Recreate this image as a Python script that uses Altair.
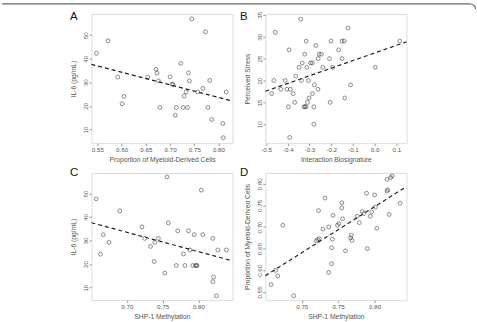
import altair as alt
import pandas as pd

# Panel A: IL-6 vs proportion of myeloid-derived cells
a_x = [0.548, 0.572, 0.592, 0.605, 0.601, 0.654, 0.671, 0.673, 0.676, 0.679,
       0.700, 0.704, 0.706, 0.711, 0.713, 0.722, 0.727, 0.729, 0.733, 0.736,
       0.738, 0.740, 0.745, 0.757, 0.768, 0.773, 0.778, 0.782, 0.786, 0.809,
       0.810, 0.816]
a_y = [42.3, 47.6, 32.2, 24.0, 20.9, 32.2, 35.5, 33.9, 30.6, 19.3,
       32.3, 29.2, 29.1, 16.0, 19.3, 38.0, 19.3, 24.2, 25.9, 19.3,
       34.0, 30.6, 56.9, 25.9, 27.4, 51.4, 19.3, 30.8, 14.2, 12.5,
       6.5, 25.9]

# Panel B: perceived stress vs interaction biosignature
b_x = [-0.474, -0.464, -0.457, -0.432, -0.412, -0.404, -0.394, -0.388, -0.397, -0.391,
       -0.375, -0.368, -0.363, -0.348, -0.340, -0.337, -0.333, -0.325, -0.321, -0.316,
       -0.322, -0.315, -0.312, -0.305, -0.309, -0.302, -0.295, -0.287, -0.286, -0.280,
       -0.280, -0.277, -0.271, -0.261, -0.260, -0.255, -0.245, -0.239, -0.208, -0.205,
       -0.201, -0.193, -0.166, -0.150, -0.150, -0.140, -0.138, -0.123, -0.111, 0.003,
       0.115]
b_y = [17, 20, 31, 18, 20, 18, 27, 18, 14, 7,
       17, 15, 21, 23, 34, 20, 24, 14, 14, 14,
       26, 29, 23, 20, 15, 16, 24, 24, 17, 14,
       10, 19, 28, 18, 25, 26, 26, 23, 25, 15,
       29, 23, 27, 25, 29, 29, 16, 32, 19, 23,
       29]

# Panel C: IL-6 vs SHP-1 methylation
c_x = [0.657, 0.667, 0.675, 0.663, 0.690, 0.721, 0.725, 0.733, 0.739, 0.738,
       0.744, 0.753, 0.756, 0.758, 0.769, 0.771, 0.779, 0.781, 0.786, 0.788,
       0.792, 0.796, 0.797, 0.798, 0.794, 0.804, 0.806, 0.820, 0.821, 0.820,
       0.825, 0.827, 0.839]
c_y = [47.7, 32.5, 29.2, 24.2, 42.6, 35.8, 30.9, 27.5, 29.2, 21.1,
       30.9, 16.2, 57.0, 37.5, 19.4, 34.1, 24.3, 19.4, 34.1, 26.0,
       19.4, 19.4, 19.4, 19.4, 32.5, 51.4, 32.5, 30.9, 14.5, 12.5,
       6.5, 26.0, 26.0]

# Panel D: proportion of myeloid-derived cells vs SHP-1 methylation
d_x = [0.658, 0.664, 0.667, 0.674, 0.689, 0.720, 0.722, 0.723, 0.724, 0.729,
       0.732, 0.737, 0.737, 0.741, 0.741, 0.742, 0.743, 0.749, 0.751, 0.755,
       0.755, 0.756, 0.760, 0.767, 0.768, 0.769, 0.776, 0.779, 0.783, 0.785,
       0.789, 0.790, 0.794, 0.796, 0.800, 0.801, 0.803, 0.817, 0.822, 0.824,
       0.817, 0.818, 0.835, 0.820]
d_y = [0.567, 0.600, 0.587, 0.704, 0.541, 0.668, 0.671, 0.738, 0.673, 0.695,
       0.767, 0.595, 0.700, 0.615, 0.652, 0.672, 0.727, 0.704, 0.708, 0.744,
       0.756, 0.719, 0.645, 0.675, 0.681, 0.669, 0.725, 0.710, 0.736, 0.731,
       0.778, 0.650, 0.725, 0.735, 0.774, 0.746, 0.697, 0.810, 0.814, 0.818,
       0.783, 0.786, 0.755, 0.729]

# Tick values per axis
a_xticks = [0.55, 0.60, 0.65, 0.70, 0.75, 0.80]
il6_ticks = [10, 20, 30, 40, 50]
b_xticks = [-0.5, -0.4, -0.3, -0.2, -0.1, 0.0, 0.1]
b_yticks = [10, 15, 20, 25, 30, 35]
shp_ticks = [0.70, 0.75, 0.80]
d_yticks = [0.55, 0.60, 0.65, 0.70, 0.75, 0.80]

FONT = "Liberation Sans"
TEXT_GREY = "#555"
TICK_GREY = "#999"
PANEL_W = 142


def axis_x(ticks, fmt, title):
    return alt.Axis(values=ticks, title=title, labelExpr=fmt, grid=False, domain=False,
                    tickSize=2.5, tickColor=TICK_GREY, labelFontSize=6.3, labelColor=TEXT_GREY,
                    labelPadding=0.5, labelFlush=False, labelOverlap=False,
                    titleFontSize=6.8, titleFontWeight="normal", titleColor=TEXT_GREY,
                    titlePadding=4)


def axis_y(ticks, fmt, title):
    return alt.Axis(values=ticks, title=title, labelExpr=fmt, grid=False, domain=False,
                    tickSize=2.5, tickColor=TICK_GREY, labelFontSize=6.3, labelColor=TEXT_GREY,
                    labelAngle=270, labelAlign="center", labelBaseline="bottom",
                    labelPadding=0.5, labelFlush=False, labelOverlap=False,
                    titleFontSize=6.8, titleFontWeight="normal", titleColor=TEXT_GREY,
                    titlePadding=6)


def fmt(spec):
    # hyphen-minus for negative labels
    return ("datum.value < 0 ? '-' + format(-datum.value, '%s') : format(datum.value, '%s')"
            % (spec, spec))


def panel(xs, ys, x_dom, y_dom, x_axis, y_axis, tag, tag_x, tag_y, height, extras=()):
    df = pd.DataFrame({"x": xs, "y": ys})
    x_enc = alt.X("x:Q", scale=alt.Scale(domain=x_dom, nice=False, zero=False), axis=x_axis)
    y_enc = alt.Y("y:Q", scale=alt.Scale(domain=y_dom, nice=False, zero=False), axis=y_axis)
    pts = alt.Chart(df).mark_point(shape="circle", filled=False, size=15, color="#333",
                                   strokeWidth=0.8).encode(x=x_enc, y=y_enc)
    fit = alt.Chart(df).transform_regression("x", "y", extent=x_dom).mark_line(
        color="#222", strokeDash=[4, 3], strokeWidth=1.2).encode(x=x_enc, y=y_enc)
    label = alt.Chart(pd.DataFrame({"tag": [tag]})).mark_text(
        align="left", baseline="alphabetic", fontSize=11.5, font=FONT, color="#111"
    ).encode(text="tag:N", x=alt.value(tag_x), y=alt.value(tag_y))
    return alt.layer(pts, fit, label, *extras).properties(width=PANEL_W, height=height)


# figure frame line along the top with a rounded right corner
one = pd.DataFrame({"k": [0]})
frame_top = alt.Chart(one).mark_rule(color="#666", strokeWidth=1.2).encode(
    x=alt.value(-90), x2=alt.value(381.5), y=alt.value(-10.2))
frame_corner = alt.Chart(one).mark_arc(
    radius=5.6, radius2=4.4, theta=0, theta2=1.5708, color="#666"
).encode(x=alt.value(381.5), y=alt.value(-5))

pa = panel(a_x, a_y, [0.5377, 0.829], [4.2, 59.0],
           axis_x(a_xticks, fmt(".2f"), "Proportion of Myeloid-Derived Cells"),
           axis_y(il6_ticks, fmt("d"), "IL-6 (pg/mL)"),
           "A", -21.5, 6.5, 130, extras=(frame_top, frame_corner))
pb = panel(b_x, b_y, [-0.503, 0.146], [5.7, 35.2],
           axis_x(b_xticks, fmt(".1f"), "Interaction Biosignature"),
           axis_y(b_yticks, fmt("d"), "Perceived Stress"),
           "B", -25.5, 6.5, 130)
pc = panel(c_x, c_y, [0.6504, 0.8476], [4.7, 58.7],
           axis_x(shp_ticks, fmt(".2f"), "SHP-1 Methylation"),
           axis_y(il6_ticks, fmt("d"), "IL-6 (pg/mL)"),
           "C", -21.5, 3.2, 128)
pd_ = panel(d_x, d_y, [0.650, 0.8437], [0.531, 0.825],
            axis_x(shp_ticks, fmt(".2f"), "SHP-1 Methylation"),
            axis_y(d_yticks, fmt(".2f"), "Proportion of Myeloid-Derived Cells"),
            "D", -25.5, 3.2, 128)

chart = alt.concat(
    pa, pb, pc, pd_, columns=2, spacing={"row": 30, "column": 33}, bounds="flush"
).properties(
    padding={"left": 0, "top": 1, "right": 0, "bottom": 0}
).configure_view(
    stroke="#aaa", strokeWidth=1
).configure_axis(
    labelFont=FONT, titleFont=FONT
).configure(background="white")

chart.save("out.html", embed_options={"renderer": "svg", "actions": False})
